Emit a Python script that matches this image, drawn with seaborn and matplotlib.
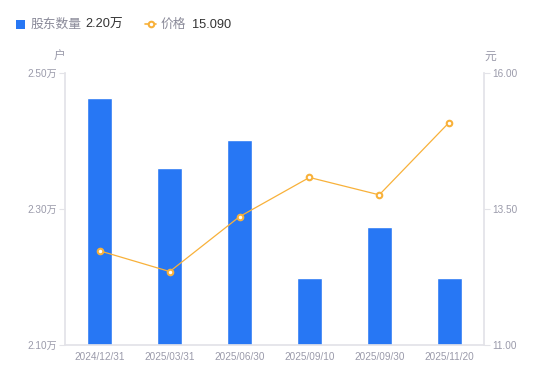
import matplotlib
matplotlib.use("Agg")
import matplotlib.pyplot as plt
import seaborn as sns
import pandas as pd
from matplotlib.lines import Line2D
from matplotlib.patches import Rectangle

dates = ["2024/12/31", "2025/03/31", "2025/06/30", "2025/09/10", "2025/09/30", "2025/11/20"]
holders = [2.463, 2.360, 2.401, 2.199, 2.274, 2.199]  # 万户
prices = [12.73, 12.35, 13.36, 14.08, 13.76, 15.09]
left_ticks = [2.10, 2.30, 2.50]
left_labels = ["2.10万", "2.30万", "2.50万"]
right_ticks = [11.00, 13.50, 16.00]
right_labels = ["11.00", "13.50", "16.00"]

BLUE = "#2777F4"
ORANGE = "#F8B13A"
TICK = "#9A9AAA"
AXIS = "#E3E3E8"

sns.set_theme(style="white")
plt.rcParams["font.family"] = ["Liberation Sans", "Noto Sans CJK SC", "DejaVu Sans"]

df = pd.DataFrame({"date": dates, "holders": holders, "price": prices})

fig = plt.figure(figsize=(5.5, 3.81), dpi=100)
ax = fig.add_axes([65/550, 36/381, (484-65)/550, (345-73)/381])
sns.barplot(data=df, x="date", y="holders", color=BLUE, width=0.36, saturation=1, ax=ax)
ax.set_ylim(2.10, 2.50)
ax.set_yticks(left_ticks)
ax.set_yticklabels(left_labels)
ax.set_xlim(-0.5, 5.5)

ax2 = ax.twinx()
sns.pointplot(data=df, x="date", y="price", color=ORANGE, ax=ax2,
              markers="o", markersize=4, linewidth=0.9,
              markerfacecolor="white", markeredgecolor=ORANGE, markeredgewidth=1.5)
ax2.set_ylim(11.0, 16.0)
ax2.set_yticks(right_ticks)
ax2.set_yticklabels(right_labels)
ax2.set_xlim(-0.5, 5.5)

for a in (ax, ax2):
    a.set_xlabel("")
    a.set_ylabel("")
    a.grid(False)
    for s in a.spines.values():
        s.set_visible(False)
    a.tick_params(axis="both", labelsize=7.2, labelcolor=TICK, color=AXIS, length=4, width=0.8)

ax.spines["left"].set_visible(True)
ax.spines["left"].set_color(AXIS)
ax.spines["bottom"].set_visible(True)
ax.spines["bottom"].set_color(AXIS)
ax2.spines["right"].set_visible(True)
ax2.spines["right"].set_color(AXIS)
ax.tick_params(axis="x", length=0, pad=5)
ax.tick_params(axis="y", left=True, pad=2)
ax2.tick_params(axis="y", right=True, pad=2)

fig.text(59/550, 1 - 57/381, "户", fontsize=8.5, color=TICK, ha="center", va="center")
fig.text(490/550, 1 - 57/381, "元", fontsize=8.5, color=TICK, ha="center", va="center")

# legend header
fig.patches.append(Rectangle((16/550, 1 - 29/381), 9/550, 9/381, transform=fig.transFigure,
                             facecolor=BLUE, edgecolor="none"))
fig.text(31/550, 1 - 24.5/381, "股东数量", fontsize=9.2, color="#8A8A99", va="center")
fig.text(85/550, 1 - 24.5/381, "2.20万", fontsize=9.2, color="#333333", va="center")
fig.lines.append(Line2D([145/550, 156/550], [1 - 24/381, 1 - 24/381], transform=fig.transFigure,
                        color=ORANGE, lw=1.2, marker=None))
fig.lines.append(Line2D([150.5/550], [1 - 24/381], transform=fig.transFigure, color=ORANGE,
                        marker="o", markersize=4, markerfacecolor="white", markeredgewidth=1.5))
fig.text(161/550, 1 - 24.5/381, "价格", fontsize=9.2, color="#8A8A99", va="center")
fig.text(192/550, 1 - 24.5/381, "15.090", fontsize=9.2, color="#333333", va="center")

fig.savefig("out.png", dpi=100)
